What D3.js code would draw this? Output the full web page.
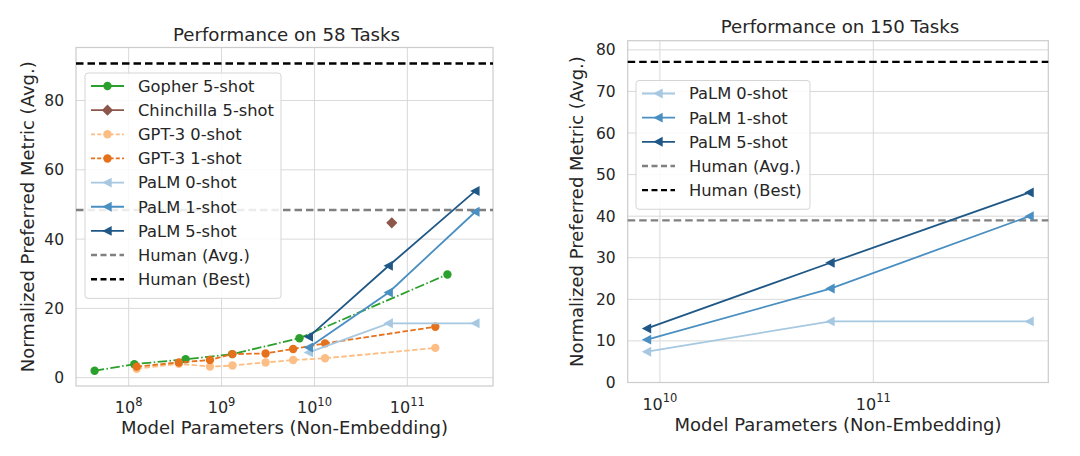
<!DOCTYPE html>
<html><head><meta charset="utf-8">
<script src="https://cdn.jsdelivr.net/npm/d3@7"></script>
<style>
html,body{margin:0;padding:0;background:#fff;}
svg{display:block;font-family:"DejaVu Sans",sans-serif;}
</style></head>
<body><svg id="c" width="1080" height="456"></svg>
<script>
// ---------- data ----------
const gopherParams = [4.3e7, 1.15e8, 4.1e8, 1.3e9, 6.9e9, 2.7e11];
const gopherScores = [2.0, 3.9, 5.3, 6.8, 11.4, 29.8];
const chinchillaParams = [6.8e10];
const chinchillaScores = [44.7];
const gpt3Params = [1.22e8, 3.47e8, 7.5e8, 1.31e9, 2.98e9, 5.9e9, 1.3e10, 2.0e11];
const gpt3ZeroShot = [2.6, 4.0, 3.2, 3.5, 4.4, 5.1, 5.6, 8.6];
const gpt3OneShot = [3.2, 4.4, 5.1, 6.8, 7.0, 8.3, 9.9, 14.7];
const palmParams = [8.7e9, 6.3e10, 5.4e11];
const palm58Zero = [7.3, 15.7, 15.7];
const palm58One = [8.7, 24.6, 47.9];
const palm58Five = [11.8, 32.3, 53.9];
const palm150Zero = [7.4, 14.7, 14.7];
const palm150One = [10.3, 22.6, 40.0];
const palm150Five = [13.0, 28.8, 45.7];
const human58 = {avg: 48.4, best: 90.7};
const human150 = {avg: 39.0, best: 77.1};
const yTicks58 = [0, 20, 40, 60, 80];
const yTicks150 = [0, 10, 20, 30, 40, 50, 60, 70, 80];
const xTicks58 = [1e8, 1e9, 1e10, 1e11];
const xTicks150 = [1e10, 1e11];
const titles = ["Performance on 58 Tasks", "Performance on 150 Tasks"];
const xLabel = "Model Parameters (Non-Embedding)";
const yLabel = "Normalized Preferred Metric (Avg.)";

// ---------- styles ----------
const C = {
  gopher: "#2ca02c", chin: "#8c564b", g0: "#fdbe85", g1: "#e6711c",
  p0: "#a6c8e1", p1: "#4a8fc1", p5: "#1f5886", havg: "#808080", hbest: "#000000",
  text: "#262626", grid: "#d9d9d9", spine: "#cccccc"
};

const svg = d3.select("#c");

function panel(cfg) {
  const g = svg.append("g");
  const x = d3.scaleLog().domain(cfg.xdom).range([cfg.L, cfg.R]);
  const y = d3.scaleLinear().domain(cfg.ydom).range([cfg.B, cfg.T]);
  // grid
  g.append("g").selectAll("line").data(cfg.yTicks).join("line")
    .attr("x1", cfg.L).attr("x2", cfg.R).attr("y1", d => y(d)).attr("y2", d => y(d))
    .attr("stroke", C.grid).attr("stroke-width", 1);
  g.append("g").selectAll("line").data(cfg.xTicks).join("line")
    .attr("y1", cfg.T).attr("y2", cfg.B).attr("x1", d => x(d)).attr("x2", d => x(d))
    .attr("stroke", C.grid).attr("stroke-width", 1);
  g.append("rect").attr("x", cfg.L).attr("y", cfg.T).attr("width", cfg.R - cfg.L).attr("height", cfg.B - cfg.T)
    .attr("fill", "none").attr("stroke", C.spine).attr("stroke-width", 1.2);
  // y tick labels
  g.append("g").selectAll("text").data(cfg.yTicks).join("text")
    .attr("x", cfg.L - 12).attr("y", d => y(d)).attr("dy", "0.36em")
    .attr("text-anchor", "end").attr("font-size", 15.5).attr("fill", C.text).text(d => d);
  // x tick labels
  const xt = g.append("g").selectAll("text").data(cfg.xTicks).join("text")
    .attr("x", d => x(d)).attr("y", cfg.B + 27).attr("text-anchor", "middle")
    .attr("font-size", 16).attr("fill", C.text);
  xt.append("tspan").text("10");
  xt.append("tspan").attr("dy", -7.5).attr("font-size", 11.5).text(d => Math.round(Math.log10(d)));
  // labels
  g.append("text").attr("x", (cfg.L + cfg.R) / 2).attr("y", cfg.B + 48).attr("text-anchor", "middle")
    .attr("font-size", 18).attr("fill", C.text).text(xLabel);
  g.append("text").attr("transform", `translate(${cfg.yLabX},${(cfg.T + cfg.B) / 2}) rotate(-90)`)
    .attr("text-anchor", "middle").attr("font-size", 18).attr("fill", C.text).text(yLabel);
  g.append("text").attr("x", (cfg.L + cfg.R) / 2 + 2).attr("y", cfg.titleY).attr("text-anchor", "middle")
    .attr("font-size", 18.2).attr("fill", C.text).text(cfg.title);

  const plot = g.append("g");
  // human lines
  plot.append("line").attr("x1", cfg.L).attr("x2", cfg.R).attr("y1", y(cfg.human.avg)).attr("y2", y(cfg.human.avg))
    .attr("stroke", C.havg).attr("stroke-width", 2.4).attr("stroke-dasharray", "7.5,4");
  plot.append("line").attr("x1", cfg.L).attr("x2", cfg.R).attr("y1", y(cfg.human.best)).attr("y2", y(cfg.human.best))
    .attr("stroke", C.hbest).attr("stroke-width", 2.4).attr("stroke-dasharray", "7.5,4");

  const line = d3.line().x(d => x(d[0])).y(d => y(d[1]));
  cfg.series.forEach(s => {
    const pts = s.xs.map((v, i) => [v, s.ys[i]]);
    if (pts.length > 1) {
      plot.append("path").attr("d", line(pts)).attr("fill", "none").attr("stroke", s.color)
        .attr("stroke-width", 1.8).attr("stroke-dasharray", s.dash || null);
    }
    pts.forEach(p => marker(plot, s.marker, x(p[0]), y(p[1]), s.color));
  });

  // legend
  const lg = g.append("g");
  const items = cfg.series.map(s => s).concat([
    {name: "Human (Avg.)", color: C.havg, width: 2.4, human: true},
    {name: "Human (Best)", color: C.hbest, width: 2.4, human: true}
  ]);
  lg.append("rect").attr("x", cfg.lg.x).attr("y", cfg.lg.y).attr("width", cfg.lg.w)
    .attr("height", items.length * 24.15 + 8).attr("rx", 3)
    .attr("fill", "#fff").attr("fill-opacity", 0.85).attr("stroke", "#d5d5d5").attr("stroke-width", 1);
  items.forEach((s, i) => {
    const cy = cfg.lg.y + 13 + i * 24.15;
    const x0 = cfg.lg.x + 6, x1 = cfg.lg.x + 39;
    lg.append("line").attr("x1", x0).attr("x2", x1).attr("y1", cy).attr("y2", cy)
      .attr("stroke", s.color).attr("stroke-width", s.width || 1.8)
      .attr("stroke-dasharray", s.human ? "6,3.5" : (s.legendDash || null));
    if (s.marker) marker(lg, s.marker, (x0 + x1) / 2, cy, s.color);
    lg.append("text").attr("x", cfg.lg.x + 53).attr("y", cy).attr("dy", "0.36em")
      .attr("font-size", 16.3).attr("fill", C.text).text(s.name);
  });
}

function marker(g, type, cx, cy, color) {
  if (type === "circle") {
    g.append("circle").attr("cx", cx).attr("cy", cy).attr("r", 4.2).attr("fill", color);
  } else if (type === "diamond") {
    const r = 5.6;
    g.append("path").attr("d", `M${cx},${cy - r}L${cx + r},${cy}L${cx},${cy + r}L${cx - r},${cy}Z`).attr("fill", color);
  } else if (type === "tri") {
    const r = 5.2;
    g.append("path").attr("d", `M${cx - r},${cy}L${cx + r * 0.8},${cy - r * 0.95}L${cx + r * 0.8},${cy + r * 0.95}Z`).attr("fill", color);
  }
}

const lo = Math.pow(10, 7.433), hi = Math.pow(10, 11.922);
panel({
  L: 76, R: 493, T: 47.5, B: 386,
  xdom: [lo, hi], ydom: [-2.4, 95.3],
  yTicks: yTicks58, xTicks: xTicks58, human: human58,
  title: titles[0], titleY: 41, yLabX: 34,
  lg: {x: 85, y: 73, w: 196},
  series: [
    {name: "Gopher 5-shot", xs: gopherParams, ys: gopherScores, color: C.gopher, marker: "circle", dash: "9.6,2.4,1.5,2.4"},
    {name: "Chinchilla 5-shot", xs: chinchillaParams, ys: chinchillaScores, color: C.chin, marker: "diamond"},
    {name: "GPT-3 0-shot", xs: gpt3Params, ys: gpt3ZeroShot, color: C.g0, marker: "circle", dash: "5.5,2.4", legendDash: "4,2.2"},
    {name: "GPT-3 1-shot", xs: gpt3Params, ys: gpt3OneShot, color: C.g1, marker: "circle", dash: "5.5,2.4", legendDash: "4,2.2"},
    {name: "PaLM 0-shot", xs: palmParams, ys: palm58Zero, color: C.p0, marker: "tri"},
    {name: "PaLM 1-shot", xs: palmParams, ys: palm58One, color: C.p1, marker: "tri"},
    {name: "PaLM 5-shot", xs: palmParams, ys: palm58Five, color: C.p5, marker: "tri"}
  ]
});
panel({
  L: 627.7, R: 1048.3, T: 40.7, B: 382.5,
  xdom: [Math.pow(10, 9.849), Math.pow(10, 11.82)], ydom: [0, 82.2],
  yTicks: yTicks150, xTicks: xTicks150, human: human150,
  title: titles[1], titleY: 33, yLabX: 583,
  lg: {x: 636, y: 80.5, w: 174},
  series: [
    {name: "PaLM 0-shot", xs: palmParams, ys: palm150Zero, color: C.p0, marker: "tri"},
    {name: "PaLM 1-shot", xs: palmParams, ys: palm150One, color: C.p1, marker: "tri"},
    {name: "PaLM 5-shot", xs: palmParams, ys: palm150Five, color: C.p5, marker: "tri"}
  ]
});
</script></body></html>
